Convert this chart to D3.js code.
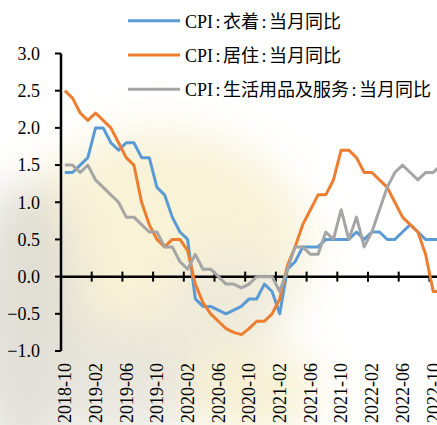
<!DOCTYPE html>
<html>
<head>
<meta charset="utf-8">
<script src="https://cdn.jsdelivr.net/npm/d3@7"></script>
<style>
  body { margin: 0; background: #fff; }
  svg { display: block; }
  text { font-family: "Liberation Serif", "Times New Roman", "Noto Sans CJK SC", serif; font-size: 18px; fill: #000; }
</style>
</head>
<body>
<div id="chart"></div>
<script>
// months 2018-10 .. 2022-11
const months = d3.utcMonth.range(new Date(Date.UTC(2018, 9, 1)), new Date(Date.UTC(2022, 11, 1)))
    .map(d3.utcFormat("%Y-%m"));

const tickLabels = ["2018-10", "2019-02", "2019-06", "2019-10", "2020-02", "2020-06", "2020-10",
    "2021-02", "2021-06", "2021-10", "2022-02", "2022-06", "2022-10"];
const yTicks = [-1.0, -0.5, 0.0, 0.5, 1.0, 1.5, 2.0, 2.5, 3.0];

// CPI:衣着:当月同比
const clothing = [1.4, 1.4, 1.5, 1.6, 2.0, 2.0, 1.8, 1.7, 1.8, 1.8,
    1.6, 1.6, 1.2, 1.1, 0.8, 0.6, 0.5, -0.3, -0.4, -0.4,
    -0.45, -0.5, -0.45, -0.4, -0.3, -0.3, -0.1, -0.2, -0.5, 0.1,
    0.2, 0.4, 0.4, 0.4, 0.5, 0.5, 0.5, 0.5, 0.6, 0.5,
    0.6, 0.6, 0.5, 0.5, 0.6, 0.7, 0.6, 0.5, 0.5, 0.5];
// CPI:居住:当月同比
const housing = [2.5, 2.4, 2.2, 2.1, 2.2, 2.1, 2.0, 1.8, 1.6, 1.5,
    1.0, 0.7, 0.5, 0.4, 0.5, 0.5, 0.35, -0.1, -0.35, -0.5,
    -0.6, -0.7, -0.75, -0.78, -0.7, -0.6, -0.6, -0.5, -0.3, 0.15,
    0.4, 0.7, 0.9, 1.1, 1.1, 1.3, 1.7, 1.7, 1.6, 1.4,
    1.4, 1.3, 1.2, 1.0, 0.8, 0.7, 0.6, 0.3, -0.2, -0.2];
// CPI:生活用品及服务:当月同比
const goods = [1.5, 1.5, 1.4, 1.5, 1.3, 1.2, 1.1, 1.0, 0.8, 0.8,
    0.7, 0.6, 0.6, 0.4, 0.4, 0.2, 0.1, 0.3, 0.1, 0.1,
    0.0, -0.1, -0.1, -0.15, -0.1, 0.0, 0.0, 0.0, -0.2, 0.1,
    0.4, 0.4, 0.3, 0.3, 0.6, 0.5, 0.9, 0.5, 0.8, 0.4,
    0.6, 0.9, 1.2, 1.4, 1.5, 1.4, 1.3, 1.4, 1.4, 1.5];

const series = [
    {name: "CPI:衣着:当月同比", values: clothing, color: "#5B9BD5"},
    {name: "CPI:居住:当月同比", values: housing, color: "#ED7D31"},
    {name: "CPI:生活用品及服务:当月同比", values: goods, color: "#A5A5A5"}
];

const width = 437, height = 425;
const svg = d3.select("#chart").append("svg")
    .attr("width", width)
    .attr("height", height);

// faded picture behind the plot
const defs = svg.append("defs");
defs.append("filter").attr("id", "blur")
    .attr("x", "-50%").attr("y", "-50%").attr("width", "200%").attr("height", "200%")
    .append("feGaussianBlur").attr("stdDeviation", 22);
const bg = svg.append("g").attr("filter", "url(#blur)");
[
    {cx: 160, cy: 250, rx: 150, ry: 120, c: "#f7f1d2", o: 0.9},
    {cx: 25, cy: 320, rx: 55, ry: 140, c: "#dedbd3", o: 0.9},
    {cx: 120, cy: 380, rx: 90, ry: 60, c: "#e4e1d8", o: 0.8},
    {cx: 250, cy: 390, rx: 70, ry: 45, c: "#f5f0cf", o: 0.9},
    {cx: 230, cy: 300, rx: 60, ry: 50, c: "#e8e5dc", o: 0.6}
].forEach(e => bg.append("ellipse")
    .attr("cx", e.cx).attr("cy", e.cy).attr("rx", e.rx).attr("ry", e.ry)
    .attr("fill", e.c).attr("opacity", e.o));

const x = d3.scaleBand()
    .domain(months)
    .range([61, 61 + months.length * 7.675]);
const y = d3.scaleLinear()
    .domain([-1, 3])
    .range([351, 53.5]);
const cx = d => x(d) + x.bandwidth() / 2;

// y axis
svg.append("line")
    .attr("x1", 61).attr("x2", 61)
    .attr("y1", y(3)).attr("y2", y(-1))
    .attr("stroke", "#000").attr("stroke-width", 2.5);
svg.selectAll(".ytick").data(yTicks).enter().append("line")
    .attr("x1", 55).attr("x2", 61)
    .attr("y1", d => y(d)).attr("y2", d => y(d))
    .attr("stroke", "#000").attr("stroke-width", 2);
svg.selectAll(".ylab").data(yTicks).enter().append("text")
    .attr("x", 40).attr("y", d => y(d)).attr("dy", "0.35em")
    .attr("text-anchor", "end")
    .text(d => d3.format(".1f")(d));

// x axis at zero
svg.append("line")
    .attr("x1", 61).attr("x2", width)
    .attr("y1", y(0)).attr("y2", y(0))
    .attr("stroke", "#000").attr("stroke-width", 2.5);
svg.selectAll(".xtick").data(tickLabels).enter().append("line")
    .attr("x1", d => x(d)).attr("x2", d => x(d))
    .attr("y1", y(0) - 5).attr("y2", y(0) + 5)
    .attr("stroke", "#000").attr("stroke-width", 2);
svg.selectAll(".xlab").data(tickLabels).enter().append("text")
    .attr("transform", d => `translate(${cx(d)},363) rotate(-90)`)
    .attr("dy", "0.35em")
    .attr("text-anchor", "end")
    .text(d => d);

// lines
const line = d3.line()
    .x((d, i) => cx(months[i]))
    .y(d => y(d));
series.forEach(s => {
    svg.append("path")
        .datum(s.values)
        .attr("d", line)
        .attr("fill", "none")
        .attr("stroke", s.color)
        .attr("stroke-width", 3)
        .attr("stroke-linejoin", "round");
});

// legend
const legend = svg.selectAll(".legend").data(series).enter().append("g")
    .attr("transform", (d, i) => `translate(128,${20.7 + i * 34.3})`);
legend.append("line")
    .attr("x1", 0).attr("x2", 52)
    .attr("stroke", d => d.color).attr("stroke-width", 3);
legend.append("text")
    .attr("x", 57).attr("y", 6.8)
    .each(function (d) {
        // colons are set wider in the original, so pad them a little
        let t = d3.select(this);
        d.name.split(":").forEach((part, i) => {
            if (i > 0) t.append("tspan").attr("dx", 2.5).text(":");
            t.append("tspan").attr("dx", i > 0 ? 2.5 : 0).text(part);
        });
    });
</script>
</body>
</html>
